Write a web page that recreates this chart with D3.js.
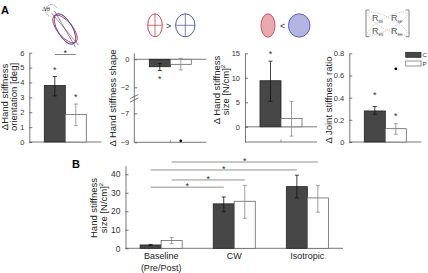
<!DOCTYPE html>
<html>
<head>
<meta charset="utf-8">
<script src="https://cdn.jsdelivr.net/npm/d3@7"></script>
<style>
    body { margin: 0; background: #fff; }
    svg { display: block; font-family: "Liberation Sans", Arial, sans-serif; }
    .axis path, .axis line { stroke: #555; stroke-width: 0.8; }
    .axis text { fill: #333; font-size: 7.5px; font-family: "Liberation Sans", Arial, sans-serif; }
    .ylab { fill: #222; font-size: 9.5px; }
</style>
</head>
<body>
<div id="chart"></div>
<script>

// ---------- data ----------
const groups = ["C", "P"];

// A1 - change of hand stiffness orientation [deg]
const orientMean = [3.8, 1.85];
const orientErr = [[3.1, 4.4], [1.1, 2.55]];
const orientStar = [5.0, 3.2];
const orientTicks = [0, 1, 2, 3, 4, 5, 6];

// A2 - change of hand stiffness shape (broken axis)
const shapeMean = [-0.53, -0.36];
const shapeErr = [[-0.8, -0.3], [-0.75, 0.07]];
const shapeStar = [-1.27, null];
const shapeOutlier = [null, -8.9];
const shapeTicksUpper = [0, -2];
const shapeTicksLower = [-7, -9];

// A3 - change of hand stiffness size [N/cm]^2
const sizeMean = [9.4, 1.7];
const sizeErr = [[5.2, 13.4], [-1.9, 5.2]];
const sizeStar = [15.4, null];
const sizeTicks = [0, 5, 10, 15];

// A4 - change of joint stiffness ratio
const ratioMean = [0.28, 0.12];
const ratioErr = [[0.25, 0.32], [0.07, 0.165]];
const ratioStar = [0.445, 0.258];
const ratioOutlier = [null, 0.66];
const ratioTicks = [0, 0.2, 0.4, 0.6, 0.8];

// B - hand stiffness size per condition
const conditions = ["Baseline", "CW", "Isotropic"];
const conditionSub = ["(Pre/Post)", "", ""];
const bMeanC = [1.8, 24.0, 33.3];
const bMeanP = [4.2, 25.4, 27.2];
const bErrC = [[1.5, 2.1], [19.8, 27.7], [27.2, 39.5]];
const bErrP = [[2.5, 5.8], [16.2, 34.0], [19.5, 34.0]];
const bTicks = [0, 10, 20, 30, 40];
// significance bars: [condition, group] -> [condition, group] at level
const bSig = [
    {from: [0, "P"], to: [2, "P"], level: 46.6},
    {from: [0, "C"], to: [2, "C"], level: 42.3},
    {from: [0, "P"], to: [1, "P"], level: 36.9},
    {from: [0, "C"], to: [1, "C"], level: 33.0}
];

// ---------- drawing ----------
const W = 428, H = 273;
const darkFill = "#474747", darkStroke = "#222", lightStroke = "#666";
const intFmt = d3.format("d");

const svg = d3.select("#chart").append("svg")
    .attr("width", W)
    .attr("height", H);

svg.append("rect").attr("width", W).attr("height", H).attr("fill", "#fff");

function star(g, x, y, size) {
    size = size || 9;
    g.append("text")
        .attr("x", x)
        .attr("y", y + size * 0.6)
        .attr("text-anchor", "middle")
        .style("font-size", size + "px")
        .style("fill", "#333")
        .text("*");
}

function yLabel(x, y, lines, spacing) {
    let t = svg.append("text")
        .attr("class", "ylab")
        .attr("transform", `translate(${x},${y}) rotate(-90)`)
        .attr("text-anchor", "middle");
    lines.forEach((l, i) => {
        let ts = t.append("tspan").attr("x", 0).attr("dy", i === 0 ? 0 : spacing);
        if (typeof l === "string") ts.text(l);
        else {
            ts.text(l[0]);
            t.append("tspan").attr("dy", -3.5).style("font-size", "6px").text(l[1]);
            t.append("tspan").attr("dy", 3.5).text("");
        }
    });
}

function drawBars(g, x, y, means, errs, baseVal) {
    means.forEach((m, i) => {
        let g0 = groups[i];
        let y0 = y(baseVal), y1 = y(m);
        g.append("rect")
            .attr("x", x(g0))
            .attr("y", Math.min(y0, y1))
            .attr("width", x.bandwidth())
            .attr("height", Math.abs(y1 - y0))
            .attr("fill", i === 0 ? darkFill : "#fff")
            .attr("stroke", i === 0 ? darkStroke : lightStroke)
            .attr("stroke-width", 0.8);
    });
    errs.forEach((e, i) => {
        let cx = x(groups[i]) + x.bandwidth() / 2;
        let col = i === 0 ? "#111" : "#888";
        g.append("line")
            .attr("x1", cx).attr("x2", cx)
            .attr("y1", y(e[0])).attr("y2", y(e[1]))
            .attr("stroke", col).attr("stroke-width", 0.8);
        [e[0], e[1]].forEach(v => {
            g.append("line")
                .attr("x1", cx - 2).attr("x2", cx + 2)
                .attr("y1", y(v)).attr("y2", y(v))
                .attr("stroke", col).attr("stroke-width", 0.8);
        });
    });
}

function dot(g, x, y, vals) {
    vals.forEach((v, i) => {
        if (v === null) return;
        g.append("circle")
            .attr("cx", x(groups[i]) + x.bandwidth() / 2)
            .attr("cy", y(v))
            .attr("r", 1.4)
            .attr("fill", "#000");
    });
}

function stars(g, x, y, vals) {
    vals.forEach((v, i) => {
        if (v === null) return;
        star(g, x(groups[i]) + x.bandwidth() / 2, y(v));
    });
}

// simple panel with a y-axis and a bottom line
function panel(ax, yTop, yBottom, domain, ticks, fmt) {
    let g = svg.append("g");
    let x = d3.scaleBand().domain(groups).range([ax, ax + 72]).paddingInner(0).paddingOuter(0.714);
    let y = d3.scaleLinear().domain(domain).range([yBottom, yTop]);
    g.append("g")
        .attr("class", "axis")
        .attr("transform", `translate(${ax},0)`)
        .call(d3.axisLeft(y).tickValues(ticks).tickSizeInner(-3).tickSizeOuter(0).tickPadding(5).tickFormat(fmt || intFmt));
    g.append("line")
        .attr("x1", ax).attr("x2", ax + 72)
        .attr("y1", yBottom).attr("y2", yBottom)
        .attr("stroke", "#555").attr("stroke-width", 0.8);
    g.append("line")
        .attr("x1", ax + 36).attr("x2", ax + 36)
        .attr("y1", yBottom).attr("y2", yBottom - 2.5)
        .attr("stroke", "#555").attr("stroke-width", 0.6);
    return {g, x, y};
}

// ---- A1 orientation ----
let p1 = panel(29.3, 52.7, 142, [0, 6], orientTicks);
drawBars(p1.g, p1.x, p1.y, orientMean, orientErr, 0);
stars(p1.g, p1.x, p1.y, orientStar);
{
    let xa = p1.x("C") + p1.x.bandwidth() / 2, xb = p1.x("P") + p1.x.bandwidth() / 2;
    p1.g.append("line").attr("x1", xa).attr("x2", xb).attr("y1", 54.5).attr("y2", 54.5)
        .attr("stroke", "#666").attr("stroke-width", 0.8);
    star(p1.g, (xa + xb) / 2, 50.5);
}
yLabel(8, 97, ["\u0394Hand stiffness", "orientation [deg]"], 9);

// ---- A2 shape (broken axis) ----
{
    let ax = 134.3;
    let g = svg.append("g");
    let x = d3.scaleBand().domain(groups).range([ax, ax + 72]).paddingInner(0).paddingOuter(0.714);
    let yU = d3.scaleLinear().domain([-2, 0]).range([87.3, 59.3]);
    let yL = d3.scaleLinear().domain([-9, -7]).range([142.3, 113.3]);
    // axis line
    g.append("line").attr("x1", ax).attr("x2", ax).attr("y1", 53.3).attr("y2", 142.3)
        .attr("stroke", "#555").attr("stroke-width", 0.8);
    g.append("g").attr("class", "axis").attr("transform", `translate(${ax},0)`)
        .call(d3.axisLeft(yU).tickValues(shapeTicksUpper).tickSizeInner(-3).tickSizeOuter(0).tickPadding(5).tickFormat(intFmt))
        .select(".domain").remove();
    g.append("g").attr("class", "axis").attr("transform", `translate(${ax},0)`)
        .call(d3.axisLeft(yL).tickValues(shapeTicksLower).tickSizeInner(-3).tickSizeOuter(0).tickPadding(5).tickFormat(intFmt))
        .select(".domain").remove();
    // break marks
    [96.5, 100].forEach(yy => {
        g.append("line").attr("x1", ax - 4).attr("x2", ax + 4).attr("y1", yy + 2).attr("y2", yy - 2)
            .attr("stroke", "#555").attr("stroke-width", 0.8);
    });
    // zero line + bottom line
    [yU(0), 142.3].forEach(yy => {
        g.append("line").attr("x1", ax).attr("x2", ax + 72).attr("y1", yy).attr("y2", yy)
            .attr("stroke", "#555").attr("stroke-width", 0.8);
    });
    g.append("line").attr("x1", ax + 36).attr("x2", ax + 36).attr("y1", 142.3).attr("y2", 139.8)
        .attr("stroke", "#555").attr("stroke-width", 0.6);
    drawBars(g, x, yU, shapeMean, shapeErr, 0);
    stars(g, x, yU, shapeStar);
    dot(g, x, yL, shapeOutlier);
}
yLabel(115.5, 98, ["\u0394 Hand stiffness shape"], 9);

// ---- A3 size ----
let p3 = panel(245, 53.3, 142, [-3.1, 15], sizeTicks);
p3.g.append("line").attr("x1", 245).attr("x2", 317).attr("y1", p3.y(0)).attr("y2", p3.y(0))
    .attr("stroke", "#555").attr("stroke-width", 0.8);
drawBars(p3.g, p3.x, p3.y, sizeMean, sizeErr, 0);
stars(p3.g, p3.x, p3.y, sizeStar);
yLabel(219.5, 90, ["\u0394 Hand stiffness", ["size [N/cm]", "2"]], 9);

// ---- A4 ratio ----
let p4 = panel(349.3, 53.3, 142, [0, 0.8], ratioTicks, d => d === 0 ? "0" : d3.format(".1f")(d));
drawBars(p4.g, p4.x, p4.y, ratioMean, ratioErr, 0);
stars(p4.g, p4.x, p4.y, ratioStar);
dot(p4.g, p4.x, p4.y, ratioOutlier);
yLabel(332, 100, ["\u0394 Joint stiffness ratio"], 9);

// legend
groups.forEach((k, i) => {
    svg.append("rect")
        .attr("x", 405.7).attr("y", 52.3 + i * 8.7)
        .attr("width", 15.3).attr("height", 5)
        .attr("fill", i === 0 ? darkFill : "#fff")
        .attr("stroke", i === 0 ? darkStroke : lightStroke)
        .attr("stroke-width", 0.7);
    svg.append("text")
        .attr("x", 422.5).attr("y", 57.3 + i * 8.7)
        .style("font-size", "6px").style("fill", "#333")
        .text(k);
});

// ---- B ----
{
    let ax = 125.5;
    let g = svg.append("g");
    let x0 = d3.scaleBand().domain(conditions).range([ax, 343]).paddingInner(0.425).paddingOuter(0.2);
    let x1 = d3.scaleBand().domain(groups).range([0, x0.bandwidth()]);
    let y = d3.scaleLinear().domain([0, 44.6]).range([248.3, 165.7]);

    g.append("g").attr("class", "axis").attr("transform", `translate(${ax},0)`)
        .call(d3.axisLeft(y).tickValues(bTicks).tickSizeInner(-3).tickSizeOuter(0).tickPadding(5))
        .selectAll("text").style("font-size", "8.5px");
    g.append("line").attr("x1", ax).attr("x2", 343).attr("y1", 248.3).attr("y2", 248.3)
        .attr("stroke", "#555").attr("stroke-width", 0.8);

    let means = {C: bMeanC, P: bMeanP}, errs = {C: bErrC, P: bErrP};
    conditions.forEach((c, ci) => {
        groups.forEach((k, i) => {
            g.append("rect")
                .attr("x", x0(c) + x1(k))
                .attr("y", y(means[k][ci]))
                .attr("width", x1.bandwidth())
                .attr("height", y(0) - y(means[k][ci]))
                .attr("fill", i === 0 ? darkFill : "#fff")
                .attr("stroke", i === 0 ? darkStroke : lightStroke)
                .attr("stroke-width", 0.8);
        });
        groups.forEach((k, i) => {
            let cx = x0(c) + x1(k) + x1.bandwidth() / 2;
            let e = errs[k][ci];
            let col = i === 0 ? "#111" : "#888";
            g.append("line").attr("x1", cx).attr("x2", cx).attr("y1", y(e[0])).attr("y2", y(e[1]))
                .attr("stroke", col).attr("stroke-width", 0.8);
            e.forEach(v => {
                g.append("line").attr("x1", cx - 2).attr("x2", cx + 2).attr("y1", y(v)).attr("y2", y(v))
                    .attr("stroke", col).attr("stroke-width", 0.8);
            });
        });
        g.append("text")
            .attr("x", x0(c) + x0.bandwidth() / 2).attr("y", 259)
            .attr("text-anchor", "middle")
            .style("font-size", "9px").style("fill", "#222")
            .text(c);
        if (conditionSub[ci]) {
            g.append("text")
                .attr("x", x0(c) + x0.bandwidth() / 2).attr("y", 271)
                .attr("text-anchor", "middle")
                .style("font-size", "9px").style("fill", "#222")
                .text(conditionSub[ci]);
        }
    });

    bSig.forEach(s => {
        let xa = x0(conditions[s.from[0]]) + x1(s.from[1]) + x1.bandwidth() / 2;
        let xb = x0(conditions[s.to[0]]) + x1(s.to[1]) + x1.bandwidth() / 2;
        g.append("line").attr("x1", xa).attr("x2", xb).attr("y1", y(s.level)).attr("y2", y(s.level))
            .attr("stroke", "#777").attr("stroke-width", 0.8);
        star(g, (xa + xb) / 2, y(s.level) - 3.5);
    });
}
yLabel(97, 208, ["Hand stiffness", ["size [N/cm]", "2"]], 9.5);

// panel letters
svg.append("text").attr("x", 1).attr("y", 14).style("font-size", "11px").style("font-weight", "bold").text("A");
svg.append("text").attr("x", 72).attr("y", 168).style("font-size", "11px").style("font-weight", "bold").text("B");

// ---------- icons ----------
const red = "#c8323f", blue = "#3f48a8";
{
    // orientation icon
    let g = svg.append("g").attr("transform", "translate(65,29)");
    [[50, red], [60, blue]].forEach(([a, col]) => {
        let r = g.append("g").attr("transform", `rotate(${a})`);
        r.append("ellipse").attr("rx", 17).attr("ry", 7.5).attr("fill", "none").attr("stroke", col).attr("stroke-width", 0.9);
        r.append("line").attr("x1", -21).attr("x2", 21).attr("y1", 0).attr("y2", 0).attr("stroke", col).attr("stroke-width", 0.6);
    });
    g.append("path").attr("d", "M-16,-13 A6,6 0 1,1 -8,-21").attr("fill", "none")
        .attr("stroke", "#333").attr("stroke-width", 0.6).attr("stroke-dasharray", "1,1");
    g.append("text").attr("x", -23).attr("y", -18).style("font-size", "6px").style("font-family", "DejaVu Serif, serif").style("fill", "#333").text("\u0394\u03b8");
}
{
    // shape icon
    [[155, 7.3, red], [185.3, 9.7, blue]].forEach(([cx, rx, col]) => {
        svg.append("ellipse").attr("cx", cx).attr("cy", 25.3).attr("rx", rx).attr("ry", 11.5)
            .attr("fill", "none").attr("stroke", col).attr("stroke-width", 0.9);
        svg.append("line").attr("x1", cx).attr("x2", cx).attr("y1", 13.8).attr("y2", 36.8).attr("stroke", col).attr("stroke-width", 0.7);
        svg.append("line").attr("x1", cx - rx).attr("x2", cx + rx).attr("y1", 25.3).attr("y2", 25.3).attr("stroke", col).attr("stroke-width", 0.7);
    });
    svg.append("text").attr("x", 168.7).attr("y", 28.5).attr("text-anchor", "middle").style("font-size", "9px").style("fill", "#333").text(">");
}
{
    // size icon
    svg.append("ellipse").attr("cx", 268).attr("cy", 25.5).attr("rx", 7).attr("ry", 11.7)
        .attr("fill", "#e9a9b0").attr("stroke", red).attr("stroke-width", 0.8);
    svg.append("ellipse").attr("cx", 299.2).attr("cy", 25.5).attr("rx", 10.8).attr("ry", 11.7)
        .attr("fill", "#b4b4e2").attr("stroke", blue).attr("stroke-width", 0.8);
    svg.append("text").attr("x", 282.7).attr("y", 28.5).attr("text-anchor", "middle").style("font-size", "9px").style("fill", "#333").text("<");
}
{
    // joint stiffness matrix icon
    let g = svg.append("g");
    g.append("path").attr("d", "M369.5,10 L366,10 L366,36.7 L369.5,36.7").attr("fill", "none").attr("stroke", "#666").attr("stroke-width", 0.8);
    g.append("path").attr("d", "M405.5,10 L409,10 L409,36.7 L405.5,36.7").attr("fill", "none").attr("stroke", "#666").attr("stroke-width", 0.8);
    g.append("ellipse").attr("transform", "translate(387.5,23.5) rotate(28)").attr("rx", 22).attr("ry", 6)
        .attr("fill", "none").attr("stroke", "#999").attr("stroke-width", 0.5).attr("stroke-dasharray", "1.2,1");
    g.append("ellipse").attr("transform", "translate(387.5,23.5) rotate(-28)").attr("rx", 22).attr("ry", 6)
        .attr("fill", "none").attr("stroke", "#999").attr("stroke-width", 0.5).attr("stroke-dasharray", "1.2,1");
    [["ss", 372, 20.5], ["se", 391, 20.5], ["es", 372, 34], ["ee", 391, 34]].forEach(([s, x, y]) => {
        let t = g.append("text").attr("x", x).attr("y", y).style("font-size", "9px").style("fill", "#555");
        t.append("tspan").text("R");
        t.append("tspan").attr("dy", 2).style("font-size", "4.5px").text(s);
    });
}
</script>
</body>
</html>
